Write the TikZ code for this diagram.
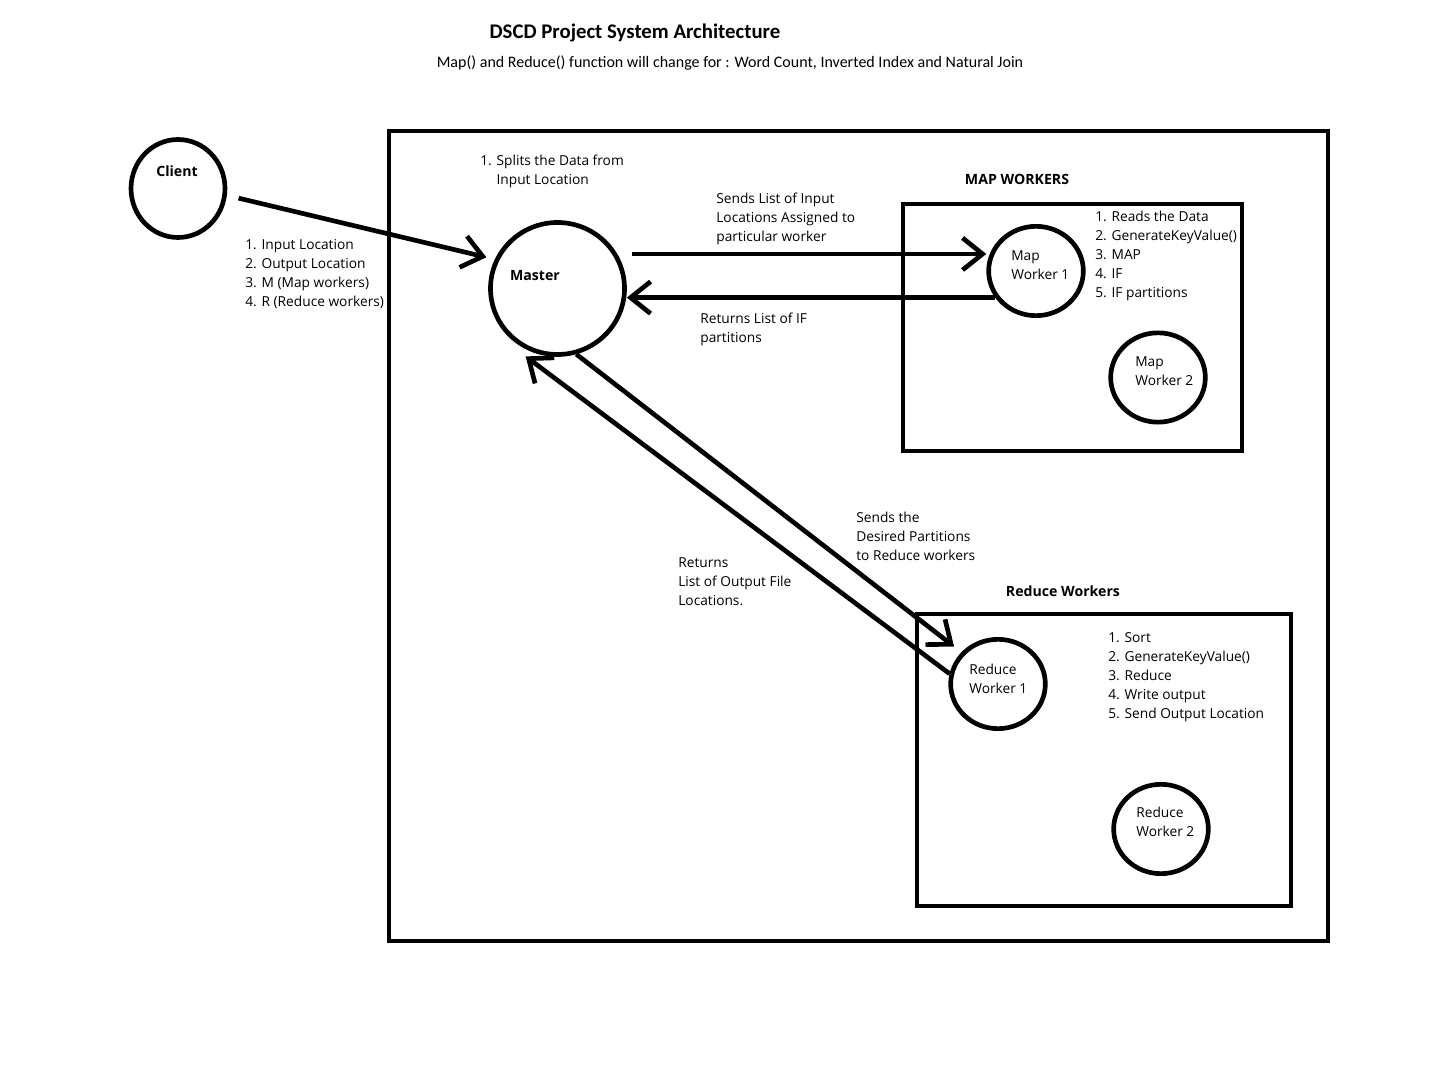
\documentclass[tikz,border=0pt]{standalone}
\usepackage{fontspec}
\setmainfont{Open Sans}
\newfontfamily\calibri{Carlito}
\usetikzlibrary{arrows.meta,shapes.geometric}

\newcommand\lblfont{\fontsize{10.3}{14.25}\selectfont}
\newcommand\hdfont{\fontsize{10.6}{14.25}\selectfont\bfseries}

\begin{document}
\begin{tikzpicture}[x=0.75pt, y=-0.75pt, line width=3.5pt,
  worker/.style={draw, ellipse, inner sep=0pt, minimum width=71pt, minimum height=67pt},
  link/.style={-{Straight Barb[length=15pt, width=24pt]}},
  txt/.style={anchor=base west, align=left, inner sep=0pt, font=\lblfont},
  hd/.style={anchor=base, inner sep=0pt, font=\hdfont}]
\path[fill=white] (0,0) rectangle (1440,1080);

\node (title) [anchor=base, inner sep=0pt, font=\calibri\bfseries\fontsize{15.6}{18}\selectfont] at (635,39) {DSCD Project System Architecture};
\node (subtitle) [anchor=base, inner sep=0pt, font=\calibri\fontsize{12}{14}\selectfont] at (730,68) {Map() and Reduce() function will change for : Word Count, Inverted Index and Natural Join};

\draw (389,131) rectangle (1328,941);
\draw (903,204) rectangle (1242,451);
\draw (917,614) rectangle (1291,906);

\node (client) [worker, minimum width=70.5pt, minimum height=73.5pt] at (178,188.5) {};
\node (master) [worker, minimum width=100.5pt, minimum height=99pt] at (557.5,288.5) {};
\node (mapwa) [worker] at (1036,271) {};
\node (mapwb) [worker] at (1158,377.5) {};
\node (redwa) [worker] at (998,684) {};
\node (redwb) [worker] at (1161,829) {};

\node (clientlbl) [hd] at (177,177) {Client};
\node (masterlbl) [hd] at (535,281) {Master};
\node (maphd) [hd] at (1017,185) {MAP WORKERS};
\node (redhd) [hd] at (1063,597) {Reduce Workers};

\node (params) [txt] at (243,307) {1. Input Location\\2. Output Location\\3. M (Map workers)\\4. R (Reduce workers)};
\node (split) [txt] at (478,185) {1. Splits the Data from\\\hphantom{1. }Input Location};
\node (sendlist) [txt] at (714,242) {Sends List of Input\\Locations Assigned to\\particular worker};
\node (retif) [txt] at (698,343) {Returns List of IF\\partitions};
\node (maplist) [txt] at (1093,298) {1. Reads the Data\\2. GenerateKeyValue()\\3. MAP\\4. IF\\5. IF partitions};
\node (mapwatxt) [txt] at (1009,280) {Map\\Worker 1};
\node (mapwbtxt) [txt] at (1133,386) {Map\\Worker 2};
\node (sendpart) [txt] at (854,561) {Sends the\\Desired Partitions\\to Reduce workers};
\node (retout) [txt] at (676,606) {Returns\\List of Output File\\Locations.};
\node (redlist) [txt] at (1106,718) {1. Sort\\2. GenerateKeyValue()\\3. Reduce\\4. Write output\\5. Send Output Location};
\node (redwatxt) [txt] at (967,693) {Reduce\\Worker 1};
\node (redwbtxt) [txt] at (1134,836) {Reduce\\Worker 2};

\draw[link, shorten <=9pt, shorten >=6.5pt] (client.-8) -- (master.155);
\draw[link, shorten <=11pt] (master.30) -- (master.30 -| mapwa.west);
\draw[link] (mapwa.213) -- (mapwa.213 -| master.east);
\draw[link, shorten >=7pt] (master.-74) -- (redwa.139);
\draw[link] (redwa.168) -- ([xshift=-3pt, yshift=-4pt]master.-114);
\end{tikzpicture}
\end{document}
